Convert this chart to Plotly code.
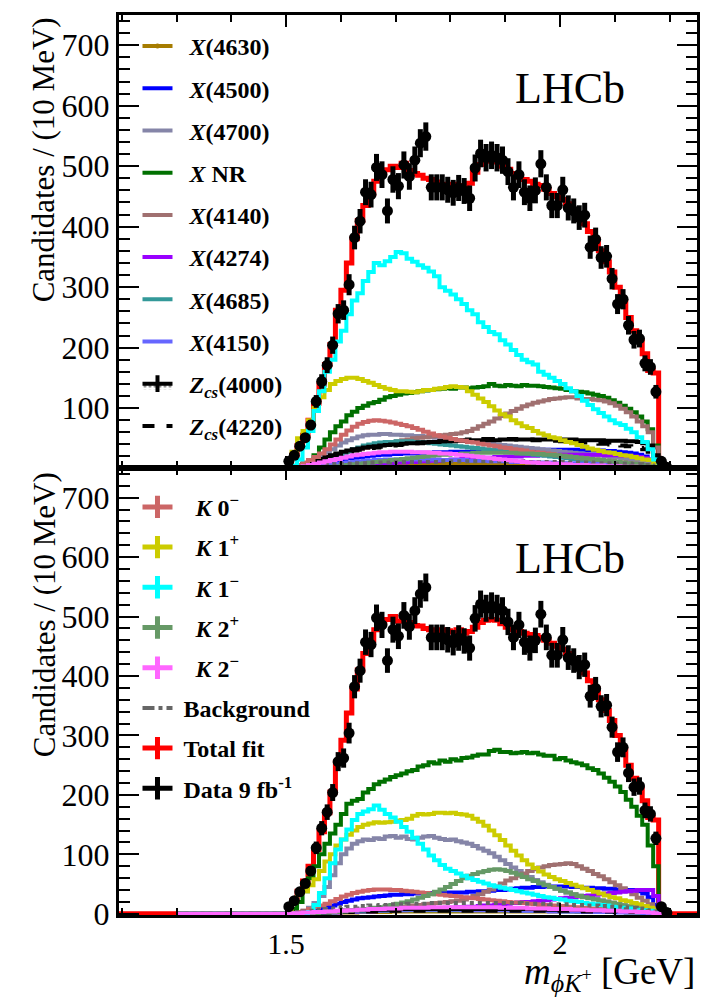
import numpy as np
import plotly.graph_objects as go

# ---------------------------------------------------------------------------
# Binning: 10 MeV bins in m(phi K+) [GeV]
# ---------------------------------------------------------------------------
BIN_W = 0.01
FIT_LO_EDGE = 1.51          # first edge of the fit-component histograms
DATA_FIRST_CENTER = 1.505   # first data bin centre
COMP_PAD = (1.30, 2.20)     # components are booked over this range
TOTAL_PAD = (1.00, 2.50)    # total fit is drawn across the whole frame

# Data (identical in both panels), bins centred at 1.505 ... 2.195
data_counts = [12, 22, 37, 51, 72, 111, 144, 171, 204, 256,
               262, 304, 382, 409, 457, 453, 498, 486, 426, 478,
               467, 502, 483, 510, 538, 549, 465, 465, 465, 461,
               456, 464, 459, 447, 497, 521, 514, 518, 514, 510,
               491, 465, 486, 457, 447, 460, 504, 465, 435, 435,
               461, 431, 426, 415, 419, 366, 379, 349, 351, 314,
               272, 280, 237, 213, 215, 174, 168, 127, 12, 2]

# ---------------------------- top panel -----------------------------------
total_top = [22, 38, 55, 80, 108, 140, 172, 205, 262, 295,
             340, 380, 410, 435, 455, 475, 490, 494, 500, 498,
             505, 493, 488, 485, 480, 478, 474, 470, 468, 470,
             468, 466, 472, 490, 503, 508, 510, 507, 500, 495,
             488, 482, 478, 475, 470, 468, 462, 455, 450, 445,
             438, 428, 420, 405, 392, 378, 360, 342, 325, 300,
             275, 250, 228, 210, 190, 162, 158]
k1m_top = [5, 15, 35, 62, 95, 128, 160, 180, 210, 228,
           255, 278, 290, 310, 325, 340, 336, 343, 350, 358,
           356, 347, 342, 336, 332, 326, 318, 300, 294, 288,
           280, 272, 262, 255, 242, 234, 226, 222, 212, 205,
           196, 188, 180, 176, 172, 160, 155, 150, 145, 140,
           133, 128, 120, 112, 105, 98, 92, 86, 80, 75,
           72, 66, 60, 52, 44, 32, 15]
k1p_top = [28, 50, 62, 80, 100, 118, 130, 140, 145, 148,
           150, 150, 148, 145, 142, 138, 135, 132, 130, 128,
           128, 127, 126, 128, 130, 130, 132, 133, 135, 136,
           135, 134, 128, 122, 116, 110, 103, 96, 90, 86,
           80, 75, 70, 67, 62, 58, 55, 52, 50, 47,
           44, 42, 39, 36, 33, 31, 29, 27, 26, 24,
           22, 21, 19, 17, 15, 14, 8]
xnr_top = [2, 5, 8, 13, 22, 35, 48, 60, 70, 78,
           88, 94, 100, 104, 108, 110, 114, 118, 120, 122,
           124, 125, 126, 128, 129, 130, 131, 132, 133, 132,
           134, 134, 133, 134, 135, 136, 140, 137, 136, 138,
           137, 136, 138, 137, 137, 136, 135, 134, 133, 132,
           130, 128, 127, 126, 124, 122, 120, 117, 113, 109,
           104, 99, 93, 86, 78, 65, 38]
x4140_top = [1, 3, 5, 8, 11, 14, 17, 20, 23, 26,
             28, 30, 32, 34, 36, 38, 40, 42, 44, 45,
             47, 48, 50, 51, 52, 53, 54, 55, 56, 57,
             58, 60, 62, 66, 70, 74, 78, 83, 87, 91,
             95, 99, 103, 106, 109, 111, 113, 115, 116, 117,
             118, 118, 116, 115, 115, 114, 113, 111, 108, 104,
             99, 93, 86, 78, 70, 60, 35]
k0m_top = [2, 6, 10, 14, 19, 25, 32, 40, 48, 56,
           63, 69, 74, 77, 79, 80, 79, 78, 76, 74,
           72, 70, 67, 64, 61, 58, 55, 53, 51, 49,
           47, 46, 44, 43, 41, 40, 38, 37, 35, 34,
           32, 31, 30, 28, 27, 26, 25, 24, 22, 21,
           20, 19, 18, 17, 16, 15, 14, 13, 12, 11,
           10, 9, 8, 7, 6, 5, 3]
x4700_top = [1, 3, 6, 10, 15, 20, 26, 32, 38, 43,
             47, 50, 53, 55, 56, 56, 57, 57, 56, 56,
             55, 55, 54, 54, 53, 52, 51, 50, 49, 48,
             47, 46, 45, 44, 43, 42, 41, 40, 39, 38,
             37, 36, 35, 34, 33, 32, 31, 30, 29, 28,
             27, 26, 25, 24, 23, 22, 21, 20, 19, 18,
             17, 16, 14, 12, 10, 8, 5]
zcs4000_top = [2, 4, 7, 10, 13, 16, 19, 22, 25, 28,
               30, 32, 33, 35, 36, 37, 38, 39, 40, 40,
               41, 42, 42, 43, 43, 44, 44, 45, 45, 45,
               46, 46, 46, 47, 47, 47, 47, 47, 48, 48,
               48, 48, 48, 48, 48, 48, 48, 48, 48, 48,
               48, 48, 47, 47, 47, 47, 47, 46, 46, 46,
               46, 45, 45, 44, 42, 38, 22]
zcs4220_top = [1, 3, 5, 8, 11, 14, 17, 20, 23, 26,
               28, 30, 31, 33, 34, 35, 36, 37, 38, 39,
               40, 41, 42, 42, 43, 44, 45, 45, 46, 46,
               47, 47, 48, 48, 48, 49, 49, 49, 49, 49,
               49, 48, 48, 48, 47, 47, 47, 46, 46, 45,
               45, 44, 44, 43, 43, 42, 41, 41, 40, 39,
               38, 37, 36, 34, 32, 28, 15]
x4685_top = [0, 1, 2, 4, 6, 9, 12, 16, 20, 24,
             28, 32, 35, 38, 40, 42, 43, 44, 44, 45,
             45, 45, 44, 44, 43, 42, 41, 40, 39, 38,
             37, 36, 35, 34, 33, 32, 31, 30, 29, 28,
             27, 26, 25, 24, 23, 22, 21, 20, 19, 18,
             17, 16, 15, 14, 13, 12, 11, 10, 9, 8,
             8, 7, 6, 5, 4, 3, 2]
x4500_top = [0, 1, 2, 3, 5, 7, 9, 11, 13, 15,
             17, 18, 19, 20, 21, 22, 23, 23, 24, 24,
             25, 25, 25, 26, 26, 26, 27, 27, 27, 28,
             28, 28, 28, 29, 29, 29, 29, 30, 30, 30,
             30, 30, 30, 30, 31, 31, 31, 31, 31, 31,
             31, 31, 31, 31, 30, 30, 30, 29, 29, 28,
             27, 26, 25, 23, 20, 15, 8]
x4274_top = [0, 0, 1, 1, 2, 2, 3, 3, 4, 5,
             5, 6, 6, 7, 7, 8, 8, 9, 9, 10,
             10, 11, 11, 12, 12, 13, 13, 14, 14, 15,
             15, 16, 16, 17, 17, 18, 18, 19, 19, 20,
             20, 20, 21, 21, 21, 22, 22, 22, 22, 23,
             23, 23, 23, 23, 23, 23, 23, 22, 22, 22,
             21, 21, 20, 19, 17, 14, 8]
x4150_top = [0, 1, 2, 3, 4, 5, 6, 7, 8, 9,
             10, 11, 12, 13, 13, 14, 14, 15, 15, 15,
             15, 15, 15, 15, 15, 15, 15, 14, 14, 14,
             14, 14, 13, 13, 13, 13, 12, 12, 12, 12,
             11, 11, 11, 11, 10, 10, 10, 10, 9, 9,
             9, 9, 8, 8, 8, 8, 7, 7, 7, 6,
             6, 6, 5, 5, 4, 3, 2]
x4630_top = [0, 0, 1, 1, 1, 2, 2, 2, 3, 3,
             3, 4, 4, 4, 5, 5, 5, 5, 6, 6,
             6, 6, 7, 7, 7, 7, 7, 8, 8, 8,
             8, 8, 8, 8, 8, 8, 8, 8, 8, 8,
             8, 8, 8, 8, 8, 8, 8, 8, 8, 8,
             8, 7, 7, 7, 7, 7, 7, 6, 6, 6,
             6, 5, 5, 5, 4, 3, 2]
k2p_top = [0, 0, 1, 1, 2, 2, 3, 3, 4, 5,
           6, 7, 8, 9, 10, 11, 12, 13, 14, 15,
           16, 17, 18, 19, 20, 21, 22, 23, 23, 24,
           24, 25, 25, 26, 26, 26, 26, 26, 26, 26,
           26, 25, 25, 25, 24, 24, 23, 23, 22, 21,
           20, 19, 18, 17, 16, 15, 14, 13, 12, 11,
           10, 9, 8, 7, 6, 4, 2]
k2m_top = [1, 2, 4, 6, 8, 10, 12, 14, 16, 18,
           20, 22, 23, 24, 25, 26, 27, 27, 28, 28,
           28, 28, 27, 27, 27, 26, 26, 25, 25, 24,
           23, 22, 21, 20, 19, 18, 17, 16, 15, 14,
           13, 12, 11, 10, 10, 9, 9, 8, 8, 7,
           7, 6, 6, 6, 5, 5, 5, 4, 4, 4,
           3, 3, 3, 2, 2, 2, 1]
bkg_top = [1, 2, 3, 4, 5, 6, 6, 7, 7, 8,
           8, 9, 9, 9, 10, 10, 10, 10, 11, 11,
           11, 11, 11, 11, 11, 11, 11, 12, 12, 12,
           12, 12, 12, 12, 12, 12, 12, 12, 12, 12,
           12, 12, 12, 11, 11, 11, 11, 11, 11, 11,
           10, 10, 10, 10, 10, 9, 9, 9, 9, 8,
           8, 8, 7, 7, 6, 5, 3]

# --------------------------- bottom panel ---------------------------------
total_bot = [22, 38, 55, 80, 108, 138, 170, 205, 255, 292,
             338, 378, 410, 438, 460, 478, 490, 495, 500, 492,
             498, 490, 485, 484, 480, 478, 476, 478, 476, 474,
             478, 472, 475, 482, 490, 494, 495, 494, 488, 482,
             478, 475, 472, 470, 468, 465, 460, 455, 450, 445,
             438, 428, 420, 405, 392, 378, 360, 342, 325, 300,
             275, 250, 228, 210, 190, 162, 158]
xnr_bot = [8, 20, 38, 60, 80, 100, 118, 135, 150, 168,
           185, 190, 193, 204, 210, 218, 222, 226, 230, 233,
           236, 240, 242, 248, 250, 255, 253, 258, 256, 260,
           258, 262, 263, 266, 268, 268, 274, 276, 272, 272,
           270, 271, 272, 270, 271, 268, 266, 266, 260, 262,
           258, 255, 253, 250, 245, 242, 236, 229, 222, 214,
           205, 192, 180, 165, 150, 115, 80]
k1m_bot = [0, 0, 1, 3, 15, 35, 60, 85, 108, 125,
           142, 158, 168, 172, 176, 182, 175, 168, 162, 155,
           146, 138, 128, 118, 108, 98, 90, 82, 76, 72,
           68, 64, 60, 57, 54, 51, 48, 46, 44, 42,
           40, 38, 36, 34, 32, 30, 28, 27, 25, 24,
           22, 21, 20, 18, 17, 16, 15, 14, 12, 11,
           10, 9, 8, 7, 6, 5, 3]
k1p_bot = [20, 35, 38, 48, 58, 72, 88, 100, 115, 125,
           133, 140, 146, 150, 152, 154, 153, 154, 155, 157,
           158, 160, 165, 168, 167, 168, 170, 170, 169, 170,
           168, 167, 165, 160, 155, 148, 140, 132, 124, 115,
           106, 98, 90, 83, 77, 71, 66, 62, 58, 55,
           52, 49, 46, 43, 40, 37, 34, 31, 28, 26,
           23, 21, 18, 16, 13, 10, 6]
x4700_bot = [0, 2, 5, 10, 18, 30, 45, 65, 85, 100,
             110, 118, 122, 125, 124, 127, 126, 130, 131, 128,
             130, 126, 125, 128, 130, 131, 128, 126, 124, 125,
             122, 120, 118, 114, 110, 106, 102, 96, 90, 84,
             78, 72, 67, 62, 57, 53, 49, 45, 42, 39,
             36, 33, 31, 29, 27, 25, 23, 21, 19, 17,
             15, 13, 11, 10, 8, 6, 4]
x4140_bot = [0, 0, 1, 1, 2, 2, 3, 3, 4, 5,
             5, 6, 6, 7, 8, 8, 9, 10, 10, 11,
             12, 13, 14, 15, 16, 17, 18, 19, 20, 21,
             22, 24, 27, 30, 33, 37, 41, 46, 51, 56,
             60, 64, 68, 72, 75, 78, 80, 82, 83, 84,
             85, 84, 80, 76, 72, 67, 63, 58, 53, 48,
             43, 38, 33, 27, 22, 16, 9]
k2p_bot = [0, 0, 0, 1, 1, 2, 2, 3, 3, 4,
           5, 6, 7, 8, 9, 10, 11, 13, 15, 17,
           19, 21, 24, 27, 30, 33, 37, 41, 45, 50,
           55, 60, 64, 67, 70, 72, 74, 75, 74, 72,
           69, 66, 62, 58, 55, 51, 48, 45, 42, 39,
           36, 33, 30, 28, 26, 24, 22, 20, 18, 16,
           14, 12, 10, 8, 6, 4, 2]
k0m_bot = [1, 3, 5, 8, 11, 14, 17, 21, 25, 29,
           32, 35, 37, 39, 40, 41, 41, 41, 40, 40,
           39, 38, 37, 36, 35, 34, 33, 32, 31, 30,
           29, 28, 27, 26, 25, 24, 23, 22, 21, 20,
           19, 19, 18, 17, 16, 15, 15, 14, 13, 13,
           12, 11, 11, 10, 9, 9, 8, 8, 7, 7,
           6, 6, 5, 5, 4, 3, 2]
x4500_bot = [0, 1, 2, 3, 5, 8, 11, 14, 17, 20,
             22, 24, 26, 27, 28, 29, 30, 31, 32, 32,
             33, 33, 34, 34, 35, 35, 35, 36, 36, 36,
             36, 36, 37, 37, 38, 38, 39, 40, 40, 41,
             42, 43, 44, 44, 45, 45, 46, 46, 46, 46,
             46, 45, 45, 44, 44, 43, 43, 42, 42, 41,
             41, 40, 40, 38, 34, 28, 15]
x4274_bot = [0, 0, 0, 1, 1, 1, 2, 2, 2, 3,
             3, 3, 4, 4, 4, 5, 5, 5, 6, 6,
             6, 7, 7, 7, 8, 8, 9, 9, 10, 10,
             11, 11, 12, 12, 13, 14, 14, 15, 16, 17,
             18, 19, 20, 20, 21, 22, 23, 24, 25, 26,
             27, 28, 29, 30, 31, 32, 33, 34, 35, 36,
             37, 38, 39, 40, 40, 40, 30]
bkg_bot = [2, 3, 4, 5, 6, 7, 8, 9, 10, 11,
           12, 12, 13, 13, 14, 14, 15, 15, 16, 16,
           16, 17, 17, 17, 17, 18, 18, 18, 18, 18,
           18, 18, 18, 18, 18, 18, 18, 18, 18, 18,
           18, 18, 17, 17, 17, 17, 17, 16, 16, 16,
           16, 15, 15, 15, 14, 14, 13, 13, 12, 12,
           11, 10, 10, 9, 8, 6, 4]
k2m_bot = [1, 1, 2, 2, 3, 3, 4, 4, 5, 5,
           6, 6, 7, 7, 8, 8, 8, 9, 9, 9,
           10, 10, 10, 10, 10, 11, 11, 11, 11, 11,
           11, 11, 11, 11, 11, 11, 11, 11, 10, 10,
           10, 10, 10, 9, 9, 9, 9, 8, 8, 8,
           8, 7, 7, 7, 6, 6, 6, 5, 5, 5,
           4, 4, 4, 3, 3, 2, 1]
x4685_bot = [0, 0, 1, 1, 1, 2, 2, 2, 3, 3,
             3, 4, 4, 4, 5, 5, 5, 5, 6, 6,
             6, 6, 6, 6, 6, 6, 6, 6, 6, 6,
             6, 6, 6, 6, 6, 6, 6, 6, 6, 6,
             5, 5, 5, 5, 5, 5, 5, 5, 5, 4,
             4, 4, 4, 4, 4, 4, 3, 3, 3, 3,
             3, 2, 2, 2, 2, 1, 1]
x4150_bot = [0, 1, 1, 2, 2, 3, 3, 4, 4, 5,
             5, 5, 6, 6, 6, 6, 7, 7, 7, 7,
             7, 7, 7, 7, 7, 7, 7, 7, 7, 7,
             7, 6, 6, 6, 6, 6, 6, 6, 6, 6,
             5, 5, 5, 5, 5, 5, 5, 4, 4, 4,
             4, 4, 4, 3, 3, 3, 3, 3, 3, 2,
             2, 2, 2, 2, 1, 1, 1]
x4630_bot = [0, 0, 0, 1, 1, 1, 1, 2, 2, 2,
             2, 2, 3, 3, 3, 3, 3, 3, 4, 4,
             4, 4, 4, 4, 4, 4, 4, 4, 4, 4,
             4, 4, 4, 4, 4, 4, 4, 4, 4, 4,
             4, 4, 4, 4, 4, 4, 4, 4, 4, 4,
             4, 4, 3, 3, 3, 3, 3, 3, 3, 3,
             3, 2, 2, 2, 2, 1, 1]
zcs4000_bot = [0, 1, 1, 2, 2, 3, 3, 4, 4, 5,
               5, 6, 6, 6, 7, 7, 7, 7, 8, 8,
               8, 8, 8, 8, 8, 8, 8, 8, 8, 8,
               8, 8, 8, 8, 8, 8, 8, 8, 8, 8,
               8, 8, 8, 8, 8, 8, 7, 7, 7, 7,
               7, 7, 7, 6, 6, 6, 6, 6, 5, 5,
               5, 5, 4, 4, 3, 3, 2]
zcs4220_bot = [0, 0, 1, 1, 1, 2, 2, 2, 3, 3,
               3, 3, 4, 4, 4, 4, 4, 5, 5, 5,
               5, 5, 5, 5, 5, 5, 5, 5, 5, 5,
               5, 5, 5, 5, 5, 5, 5, 5, 5, 5,
               5, 5, 5, 5, 5, 5, 5, 5, 5, 5,
               5, 4, 4, 4, 4, 4, 4, 4, 4, 3,
               3, 3, 3, 3, 2, 2, 1]

# ---------------------------------------------------------------------------
# Styles
# ---------------------------------------------------------------------------
FONT = "Liberation Serif"
C = {
    "x4630": "#a67c00", "x4500": "#0000ff", "x4700": "#8585a8",
    "xnr": "#007000", "x4140": "#a07070", "x4274": "#9900ff",
    "x4685": "#339999", "x4150": "#6666ff", "zcs": "#000000",
    "k0m": "#cc6666", "k1p": "#cccc00", "k1m": "#00ffff",
    "k2p": "#669966", "k2m": "#ff66ff", "bkg": "#666666",
    "tot": "#ff0000", "data": "#000000",
}

# drawing order (last one on top)
order = [
    ("x4630", "solid"), ("x4500", "solid"), ("x4700", "solid"),
    ("xnr", "solid"), ("x4140", "solid"), ("x4274", "solid"),
    ("x4685", "solid"), ("x4150", "solid"), ("zcs4000", "solid"),
    ("zcs4220", "dash"), ("k0m", "solid"), ("k1p", "solid"),
    ("k2p", "solid"), ("k1m", "solid"), ("bkg", "dot"), ("k2m", "solid"),
]
panels = {
    "top": dict(total=total_top, comps=dict(
        x4630=x4630_top, x4500=x4500_top, x4700=x4700_top, xnr=xnr_top,
        x4140=x4140_top, x4274=x4274_top, x4685=x4685_top,
        x4150=x4150_top, zcs4000=zcs4000_top, zcs4220=zcs4220_top,
        k0m=k0m_top, k1p=k1p_top, k1m=k1m_top, k2p=k2p_top,
        k2m=k2m_top, bkg=bkg_top), xa="x", ya="y"),
    "bot": dict(total=total_bot, comps=dict(
        x4630=x4630_bot, x4500=x4500_bot, x4700=x4700_bot, xnr=xnr_bot,
        x4140=x4140_bot, x4274=x4274_bot, x4685=x4685_bot,
        x4150=x4150_bot, zcs4000=zcs4000_bot, zcs4220=zcs4220_bot,
        k0m=k0m_bot, k1p=k1p_bot, k1m=k1m_bot, k2p=k2p_bot,
        k2m=k2m_bot, bkg=bkg_bot), xa="x2", ya="y2"),
}


def hist_xy(vals, lo_edge, pad_lo, pad_hi):
    """Step outline of a histogram, padded with empty bins on both sides."""
    vals = np.asarray(vals, dtype=float)
    edges = lo_edge + BIN_W * np.arange(len(vals) + 1)
    xs = np.concatenate([[pad_lo], edges, [pad_hi]])
    ys = np.concatenate([[0.0], vals, [0.0, 0.0]])
    return xs, ys


fig = go.Figure()

data_x = DATA_FIRST_CENTER + BIN_W * np.arange(len(data_counts))
data_y = np.asarray(data_counts, dtype=float)
data_err = np.sqrt(data_y)

for p in panels.values():
    xa, ya = p["xa"], p["ya"]
    xs, ys = hist_xy(p["total"], FIT_LO_EDGE, *TOTAL_PAD)
    fig.add_trace(go.Scatter(x=xs, y=ys, mode="lines", line_shape="hv",
                             line=dict(color=C["tot"], width=5),
                             xaxis=xa, yaxis=ya, showlegend=False,
                             hoverinfo="skip"))
    for key, dash in order:
        col = C["zcs"] if key.startswith("zcs") else C[key]
        xs, ys = hist_xy(p["comps"][key], FIT_LO_EDGE, *COMP_PAD)
        fig.add_trace(go.Scatter(x=xs, y=ys, mode="lines", line_shape="hv",
                                 line=dict(color=col, width=4, dash=dash),
                                 xaxis=xa, yaxis=ya, showlegend=False,
                                 hoverinfo="skip"))
    fig.add_trace(go.Scatter(x=data_x, y=data_y, mode="markers",
                             marker=dict(color=C["data"], size=11),
                             error_y=dict(type="data", array=data_err,
                                          color=C["data"], thickness=5,
                                          width=0),
                             xaxis=xa, yaxis=ya, showlegend=False))

# ---------------------------------------------------------------------------
# Legend entries (two legends, one per panel)
# ---------------------------------------------------------------------------
SP2 = "&nbsp;&nbsp;"
top_entries = [
    ("x4630", SP2 + "<b><i>X</i>(4630)</b>", "line_dot"),
    ("x4500", SP2 + "<b><i>X</i>(4500)</b>", "line"),
    ("x4700", SP2 + "<b><i>X</i>(4700)</b>", "line"),
    ("xnr", SP2 + "<b><i>X</i> NR</b>", "line"),
    ("x4140", SP2 + "<b><i>X</i>(4140)</b>", "line"),
    ("x4274", SP2 + "<b><i>X</i>(4274)</b>", "line"),
    ("x4685", SP2 + "<b><i>X</i>(4685)</b>", "line"),
    ("x4150", SP2 + "<b><i>X</i>(4150)</b>", "line"),
    ("zcs", SP2 + "<b><i>Z<sub>cs</sub></i>(4000)</b>", "band"),
    ("zcs", SP2 + "<b><i>Z<sub>cs</sub></i>(4220)</b>", "dash"),
]
SP3 = "&nbsp;&nbsp;&nbsp;"
bot_entries = [
    ("k0m", SP3 + "<b><i>K</i> 0<sup>\u2212</sup></b>", "cross"),
    ("k1p", SP3 + "<b><i>K</i> 1<sup>+</sup></b>", "cross"),
    ("k1m", SP3 + "<b><i>K</i> 1<sup>\u2212</sup></b>", "cross"),
    ("k2p", SP3 + "<b><i>K</i> 2<sup>+</sup></b>", "cross"),
    ("k2m", SP3 + "<b><i>K</i> 2<sup>\u2212</sup></b>", "cross"),
    ("bkg", "&nbsp;<b>Background</b>", "dashdot"),
    ("tot", "&nbsp;<b>Total fit</b>", "cross"),
    ("data", "&nbsp;<b>Data 9 fb<sup>-1</sup></b>", "cross"),
]


def legend_proxy(key, name, style, legend, idx):
    col = C[key]
    kw = dict(x=[None], y=[None], name=name, legend=legend,
              legendgroup=f"{legend}-{idx}", showlegend=True,
              xaxis="x", yaxis="y")
    if style == "line":
        return go.Scatter(mode="lines", line=dict(color=col, width=4), **kw)
    if style == "line_dot":
        return go.Scatter(mode="lines+markers", line=dict(color=col, width=4),
                          marker=dict(color=col, size=5), **kw)
    if style == "dash":
        return go.Scatter(mode="lines", line=dict(color=col, width=4,
                                                  dash="dash"), **kw)
    if style == "dashdot":
        return go.Scatter(mode="lines", line=dict(color=col, width=4,
                                                  dash="dashdot"), **kw)
    if style == "band":
        return go.Scatter(mode="lines+markers", fill="toself",
                          fillcolor="white",
                          fillpattern=dict(shape=".", fgcolor="black",
                                           bgcolor="white", size=5,
                                           solidity=0.25),
                          line=dict(color=col, width=4),
                          marker=dict(symbol="line-ns", size=12,
                                      line=dict(color=col, width=4)), **kw)
    # "cross": horizontal line with a vertical error-bar tick
    return go.Scatter(mode="lines+markers", line=dict(color=col, width=5),
                      marker=dict(symbol="line-ns", size=22, color=col,
                                  line=dict(color=col, width=5)), **kw)


for i, (k, n, s) in enumerate(top_entries):
    fig.add_trace(legend_proxy(k, n, s, "legend", i))
for i, (k, n, s) in enumerate(bot_entries):
    fig.add_trace(legend_proxy(k, n, s, "legend2", i))

# ---------------------------------------------------------------------------
# Axes / layout
# ---------------------------------------------------------------------------
SPLIT = 0.4967
tick_font = dict(family=FONT, size=32, color="black")
common_x = dict(range=[1.195, 2.25], tick0=0, dtick=0.5, ticks="inside",
                ticklen=12, tickwidth=2, tickcolor="black", showline=True,
                linewidth=3, linecolor="black", mirror="ticks",
                showgrid=False, zeroline=False,
                minor=dict(dtick=0.1, ticks="inside", ticklen=7,
                           tickwidth=2, tickcolor="black", showgrid=False),
                tickfont=dict(family=FONT, size=30, color="black"))
common_y = dict(tick0=0, dtick=100, ticks="inside", ticklen=20, tickwidth=2,
                tickcolor="black", showline=True, linewidth=3,
                linecolor="black", mirror="ticks", showgrid=False,
                zeroline=False,
                minor=dict(dtick=20, ticks="inside", ticklen=11,
                           tickwidth=2, tickcolor="black", showgrid=False),
                tickfont=tick_font)

legend_common = dict(bgcolor="rgba(0,0,0,0)", borderwidth=0,
                     font=dict(family=FONT, size=24, color="black"),
                     xanchor="left", yanchor="top", orientation="v",
                     itemsizing="trace", itemwidth=30)

fig.update_layout(
    width=712, height=997,
    margin=dict(l=119, r=15, t=13, b=82),
    paper_bgcolor="white", plot_bgcolor="white",
    xaxis=dict(domain=[0, 1], anchor="y", showticklabels=False, **common_x),
    yaxis=dict(domain=[SPLIT, 1], anchor="x", range=[1, 750], **common_y),
    xaxis2=dict(domain=[0, 1], anchor="y2", showticklabels=True, **common_x),
    yaxis2=dict(domain=[0, SPLIT], anchor="x2", range=[-2, 750], **common_y),
    legend=dict(x=0.032, y=0.99, tracegroupgap=8, **legend_common),
    legend2=dict(x=0.032, y=0.478, tracegroupgap=6, **legend_common),
    font=dict(family=FONT, color="black"),
)

ytitle = "Candidates / (10 MeV)"
fig.add_annotation(text=ytitle, xref="paper", yref="paper", x=-0.13, y=1.0,
                   xanchor="center", yanchor="top", textangle=-90,
                   showarrow=False, font=dict(family=FONT, size=31))
fig.add_annotation(text=ytitle, xref="paper", yref="paper", x=-0.13,
                   y=SPLIT - 0.002, xanchor="center", yanchor="top",
                   textangle=-90, showarrow=False,
                   font=dict(family=FONT, size=31))
for yy in (0.918, 0.396):
    fig.add_annotation(text="LHCb", xref="paper", yref="paper", x=0.78,
                       y=yy, xanchor="center", yanchor="middle",
                       showarrow=False, font=dict(family=FONT, size=44))
fig.add_annotation(
    text="<i>m</i><sub><i>\u03d5K</i><sup>+</sup></sub> [GeV]",
    xref="paper", yref="paper", x=1.0, y=-0.066, xanchor="right",
    yanchor="middle", showarrow=False, font=dict(family=FONT, size=37))

fig.write_html("out.html")
